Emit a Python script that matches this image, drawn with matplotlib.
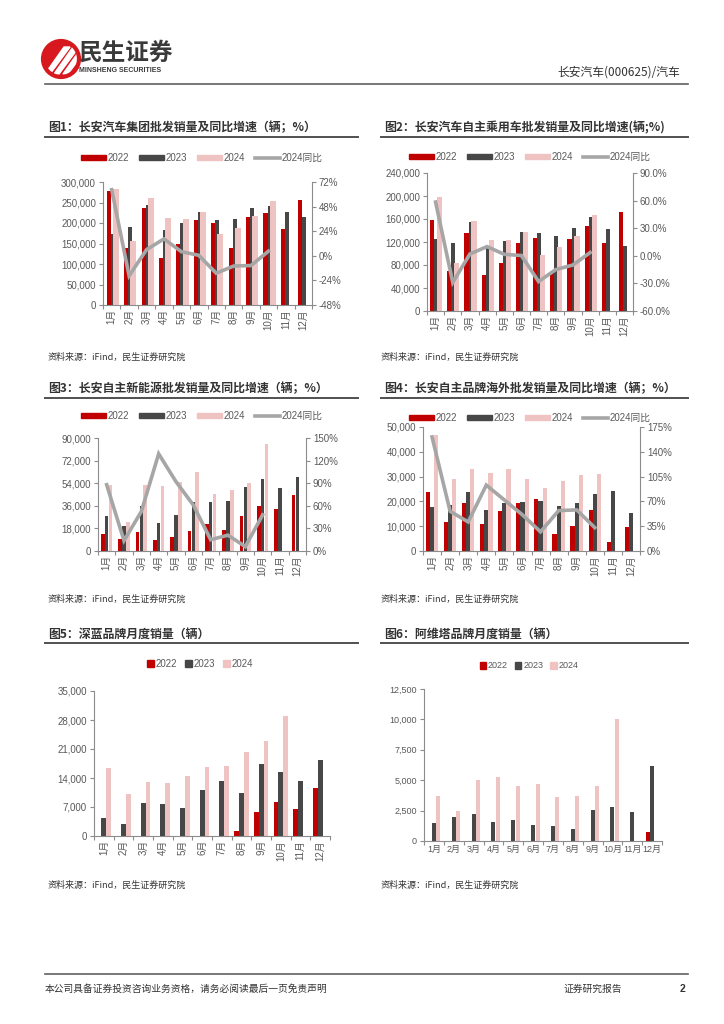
import matplotlib
matplotlib.use('Agg')

import matplotlib.pyplot as plt
import numpy as np
from matplotlib.patches import Patch, Circle, Polygon
from matplotlib.lines import Line2D
from matplotlib.ticker import FuncFormatter

plt.rcParams['font.family'] = ['Liberation Sans', 'Noto Sans CJK SC', 'DejaVu Sans']

W, H = 724, 1024
months = ['%d月' % i for i in range(1, 13)]
years = ['2022', '2023', '2024']

# fig1: group wholesale (units) + 2024 yoy (%)
group_2022 = [277000, 138000, 236000, 115000, 150000, 207000, 200000, 139000, 215000, 224000, 185000, 256000]
group_2023 = [172000, 191000, 245000, 182000, 200000, 226000, 207000, 209000, 237000, 241000, 227000, 215000]
group_2024 = [284000, 155000, 261000, 213000, 209000, 228000, 173000, 189000, 216000, 254000]
group_yoy = [64.5, -19.5, 6.0, 16.5, 4.0, 0.5, -17.0, -10.0, -9.5, 4.5]

# fig2: own-brand passenger cars
pv_2022 = [158600, 69700, 134800, 62700, 84300, 118000, 127800, 66000, 125000, 147000, 119000, 173000]
pv_2023 = [125000, 118000, 154000, 112000, 122000, 138000, 135000, 131000, 143500, 162700, 142000, 113000]
pv_2024 = [197600, 84000, 157000, 124000, 124000, 138000, 97600, 112000, 129600, 167000]
pv_yoy = [58.4, -29.0, 2.0, 10.0, 1.6, 0.3, -28.0, -15.0, -10.0, 3.5]

# fig3: own-brand NEV
nev_2022 = [13300, 9600, 15200, 9000, 11400, 16000, 21800, 16500, 28200, 36200, 33300, 44700]
nev_2023 = [27700, 20200, 35700, 22100, 29000, 39100, 39100, 40000, 50600, 57200, 50300, 59100]
nev_2024 = [52500, 23200, 52700, 51700, 54600, 63100, 45300, 48500, 54300, 85200]
nev_yoy = [88.0, 13.8, 52.4, 129.0, 92.0, 61.0, 15.0, 21.0, 5.8, 48.0]

# fig4: own-brand overseas
ovs_2022 = [23600, 11700, 19200, 10900, 16100, 19400, 20800, 6700, 9900, 16600, 3600, 9800]
ovs_2023 = [17800, 18600, 23600, 16400, 19200, 19800, 20100, 18000, 19300, 22900, 24000, 15500]
ovs_2024 = [46600, 29100, 33200, 31600, 33200, 29200, 25300, 28400, 30600, 31000]
ovs_yoy = [161.0, 56.0, 41.0, 93.0, 72.0, 51.0, 27.0, 57.0, 58.0, 33.0]

# fig5: Deepal
deepal_2022 = [0, 0, 0, 0, 0, 0, 0, 1100, 5800, 8200, 6500, 11700]
deepal_2023 = [4300, 2800, 8000, 7800, 6700, 11100, 13200, 10500, 17400, 15400, 13200, 18400]
deepal_2024 = [16500, 10100, 13100, 12800, 14400, 16700, 16800, 20300, 22900, 28900]

# fig6: Avatr
avatr_2022 = [0, 0, 0, 0, 0, 0, 0, 0, 0, 0, 0, 760]
avatr_2023 = [1450, 2000, 2240, 1600, 1750, 1300, 1230, 980, 2570, 2780, 2400, 6170]
avatr_2024 = [3740, 2480, 5020, 5270, 4560, 4690, 3630, 3710, 4530, 10070]

C22, C23, C24, CLINE = '#C00000', '#474747', '#F0C3C3', '#A6A6A6'
TXT = '#595959'
SPINE = '#8C8C8C'

fig = plt.figure(figsize=(W / 100, H / 100), dpi=100)

# page overlay in pixel coordinates
page = fig.add_axes([0, 0, 1, 1])
page.set_xlim(0, W)
page.set_ylim(H, 0)
page.axis('off')


def axes_px(x0, y0, x1, y1):
  return fig.add_axes([x0 / W, 1 - y1 / H, (x1 - x0) / W, (y1 - y0) / H])


def style_axes(ax, ymax, ystep, rot, fs=7):
  for s in ['top', 'right']:
    ax.spines[s].set_visible(False)
  for s in ['left', 'bottom']:
    ax.spines[s].set_color(SPINE)
    ax.spines[s].set_linewidth(0.8)
  ax.set_xlim(-0.5, 11.5)
  ax.set_ylim(0, ymax)
  ax.set_yticks(np.arange(0, ymax + 1, ystep))
  ax.yaxis.set_major_formatter(FuncFormatter(lambda v, p: '{:,.0f}'.format(v)))
  ax.tick_params(axis='y', colors=SPINE, labelcolor=TXT, labelsize=fs, length=3, width=0.8, pad=2)
  ax.set_xticks(np.arange(13) - 0.5)
  ax.set_xticklabels([])
  ax.tick_params(axis='x', which='major', colors=SPINE, length=3, width=0.8)
  ax.set_xticks(np.arange(12), minor=True)
  ax.set_xticklabels(months, minor=True, rotation=rot, fontsize=fs, color=TXT)
  ax.tick_params(axis='x', which='minor', length=0, pad=3)
  ax.set_facecolor('none')


def draw_bars(ax, series, offsets, widths):
  x = np.arange(12)
  colors = [C22, C23, C24]
  for vals, off, w, c in zip(series, offsets, widths, colors):
    ax.bar(x[:len(vals)] + off, vals, w, color=c, linewidth=0)


def draw_yoy(ax, yoy, ymin, ymax, ystep, fmt, fs=7):
  tw = ax.twinx()
  tw.plot(np.arange(len(yoy)), yoy, color=CLINE, lw=2.6, solid_joinstyle='miter')
  tw.set_ylim(ymin, ymax)
  tw.set_yticks(np.arange(ymin, ymax + 0.01, ystep))
  tw.yaxis.set_major_formatter(FuncFormatter(lambda v, p: fmt.format(v)))
  for s in ['top', 'left', 'bottom']:
    tw.spines[s].set_visible(False)
  tw.spines['right'].set_color(SPINE)
  tw.spines['right'].set_linewidth(0.8)
  tw.tick_params(axis='y', colors=SPINE, labelcolor=TXT, labelsize=fs, length=3, width=0.8, pad=2)
  return tw


def legend(ax, cx, cy, with_line=True, wide=True, fs=7):
  handles = [Patch(color=C22), Patch(color=C23), Patch(color=C24)]
  labels = list(years)
  if with_line:
    handles.append(Line2D([], [], color=CLINE, lw=2.6))
    labels.append('2024同比')
  if wide:
    kw = dict(handlelength=2.6, handleheight=0.55, columnspacing=1.0, handletextpad=0.15)
  else:
    kw = dict(handlelength=0.7, handleheight=0.7, columnspacing=0.8, handletextpad=0.2)
  lg = ax.legend(handles, labels, loc='center', bbox_to_anchor=(cx / W, 1 - cy / H),
                 bbox_transform=fig.transFigure, ncol=len(handles), frameon=False,
                 fontsize=fs, borderaxespad=0, **kw)
  for t in lg.get_texts():
    t.set_color(TXT)
  return lg


def title(x, y, s, x1):
  page.text(x, y, s, fontsize=8.6, fontweight='bold', color='#333333', va='center',
            family=['Noto Sans CJK SC', 'DejaVu Sans'])
  page.plot([x - 3, x1], [y + 9, y + 9], color='#505050', lw=1.4)


def source(x, y):
  page.text(x, y, '资料来源：iFind，民生证券研究院', fontsize=6.5, color='#333333', va='center',
            family=['Noto Sans CJK SC', 'DejaVu Sans'])


# ---- header ----
page.add_patch(Circle((61, 59), 18, color='#D7191F'))
for dx in [0, 9, 18]:
  page.add_patch(Polygon([[45 + dx, 74], [50 + dx, 74], [70 + dx, 47], [64 + dx, 47]],
                         closed=True, color='white', clip_on=True))
page.add_patch(Circle((61, 59), 18, fill=False, ec='#D7191F', lw=3))
page.text(79, 53, '民生证券', fontsize=17, fontweight='bold', color='#3A3A3A', va='center',
          family=['Noto Sans CJK SC'])
page.text(79, 71, 'MINSHENG SECURITIES', fontsize=5, fontweight='bold', color='#3A3A3A', va='center')
page.text(680, 72, '长安汽车(000625)/汽车', fontsize=8.5, color='#333333', va='center', ha='right',
          family=['Noto Sans CJK SC', 'DejaVu Sans'])
page.plot([45, 688], [84, 84], color='#606060', lw=1.2)

# ---- titles ----
title(48, 128, '图1：长安汽车集团批发销量及同比增速（辆；%）', 358)
title(384, 128, '图2：长安汽车自主乘用车批发销量及同比增速(辆;%)', 688)
title(48, 389, '图3：长安自主新能源批发销量及同比增速（辆；%）', 358)
title(384, 389, '图4：长安自主品牌海外批发销量及同比增速（辆；%）', 688)
title(48, 634, '图5：深蓝品牌月度销量（辆）', 358)
title(384, 634, '图6：阿维塔品牌月度销量（辆）', 688)

for sx, sy in [(48, 357), (381, 357), (48, 599), (381, 599), (48, 885), (381, 885)]:
  source(sx, sy)

# ---- chart 1 ----
ax1 = axes_px(103, 182, 312, 305)
draw_bars(ax1, [group_2022, group_2023, group_2024], [-0.17, 0.06, 0.24], [0.23, 0.23, 0.34])
style_axes(ax1, 300000, 50000, 90)
draw_yoy(ax1, group_yoy, -48, 72, 24, '{:.0f}%')
legend(ax1, 202, 158)

# ---- chart 2 ----
ax2 = axes_px(427, 173, 633, 311)
draw_bars(ax2, [pv_2022, pv_2023, pv_2024], [-0.2, 0.04, 0.24], [0.24, 0.24, 0.3])
style_axes(ax2, 240000, 40000, 90)
draw_yoy(ax2, pv_yoy, -60, 90, 30, '{:.1f}%')
legend(ax2, 530, 157)

# ---- chart 3 ----
ax3 = axes_px(98, 438, 306, 551)
draw_bars(ax3, [nev_2022, nev_2023, nev_2024], [-0.22, 0, 0.22], [0.2, 0.2, 0.2])
style_axes(ax3, 90000, 18000, 90)
draw_yoy(ax3, nev_yoy, 0, 150, 30, '{:.0f}%')
legend(ax3, 202, 416)

# ---- chart 4 ----
ax4 = axes_px(423, 427, 640, 551)
draw_bars(ax4, [ovs_2022, ovs_2023, ovs_2024], [-0.23, 0, 0.23], [0.23, 0.23, 0.23])
style_axes(ax4, 50000, 10000, 90)
draw_yoy(ax4, ovs_yoy, 0, 175, 35, '{:.0f}%')
legend(ax4, 530, 418)

# ---- chart 5 ----
ax5 = axes_px(94, 691, 330, 836)
draw_bars(ax5, [deepal_2022, deepal_2023, deepal_2024], [-0.25, 0, 0.25], [0.24, 0.24, 0.24])
style_axes(ax5, 35000, 7000, 90)
legend(ax5, 200, 664, with_line=False, wide=False)

# ---- chart 6 ----
ax6 = axes_px(424, 689, 662, 841)
draw_bars(ax6, [avatr_2022, avatr_2023, avatr_2024], [-0.22, 0, 0.23], [0.2, 0.2, 0.2])
style_axes(ax6, 12500, 2500, 0, fs=6.5)
legend(ax6, 529, 666, with_line=False, wide=False, fs=6.5)

# ---- footer ----
page.plot([45, 688], [974, 974], color='#606060', lw=1.2)
page.text(45, 989, '本公司具备证券投资咨询业务资格，请务必阅读最后一页免责声明', fontsize=7, color='#333333',
          va='center', family=['Noto Sans CJK SC', 'DejaVu Sans'])
page.text(564, 989, '证券研究报告', fontsize=7, color='#333333', va='center',
          family=['Noto Sans CJK SC', 'DejaVu Sans'])
page.text(680, 989, '2', fontsize=7.5, fontweight='bold', color='#333333', va='center')

plt.savefig('out.png', dpi=100)
